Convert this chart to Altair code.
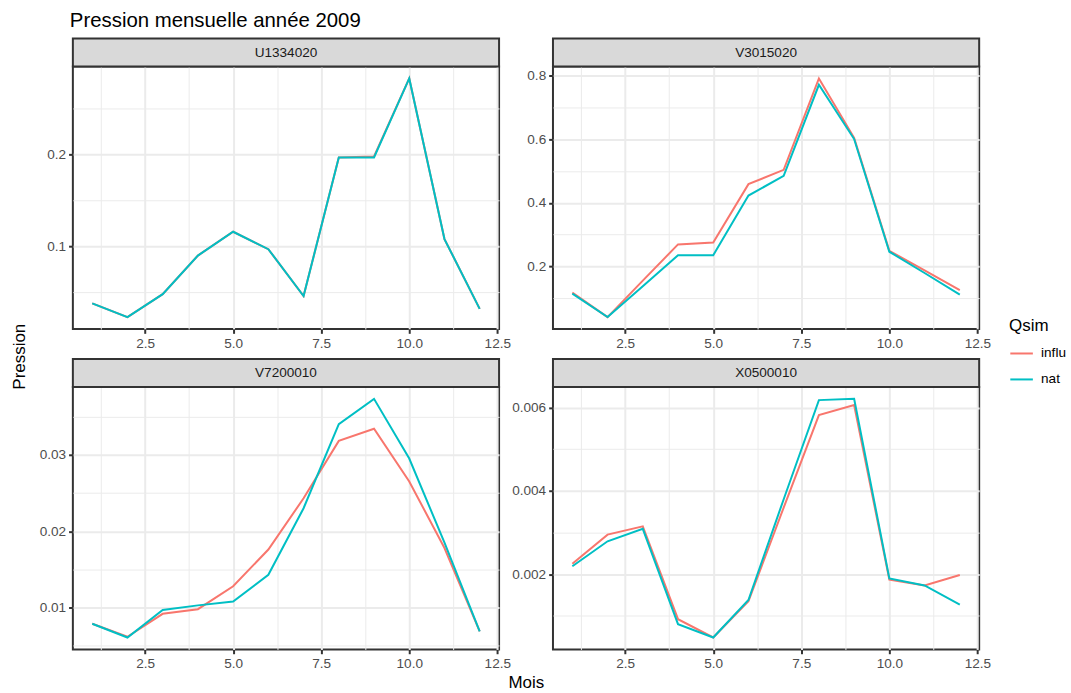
import altair as alt
import pandas as pd

mois = list(range(1, 13))
qsim = ["influ", "nat"]
stations = ["U1334020", "V3015020", "V7200010", "X0500010"]

u1334020_influ = [0.038, 0.023, 0.048, 0.090, 0.116, 0.097, 0.046, 0.197, 0.198, 0.283, 0.108, 0.032]
u1334020_nat = [0.038, 0.023, 0.048, 0.090, 0.116, 0.097, 0.046, 0.197, 0.197, 0.283, 0.108, 0.032]
v3015020_influ = [0.117, 0.040, 0.155, 0.269, 0.275, 0.459, 0.504, 0.792, 0.605, 0.249, 0.187, 0.125]
v3015020_nat = [0.114, 0.040, 0.137, 0.235, 0.235, 0.423, 0.485, 0.772, 0.601, 0.246, 0.179, 0.111]
v7200010_influ = [0.0079, 0.0062, 0.0092, 0.0098, 0.0128, 0.0176, 0.0243, 0.0318, 0.0334, 0.0265, 0.0178, 0.0069]
v7200010_nat = [0.0079, 0.0061, 0.0097, 0.0103, 0.0108, 0.0143, 0.0230, 0.0340, 0.0373, 0.0295, 0.0185, 0.0069]
x0500010_influ = [0.00225, 0.00295, 0.00315, 0.00092, 0.00048, 0.00135, 0.0036, 0.00582, 0.00606, 0.00187, 0.00173, 0.00198]
x0500010_nat = [0.00219, 0.00279, 0.00309, 0.00080, 0.00048, 0.00138, 0.0038, 0.00618, 0.00621, 0.00190, 0.00173, 0.00127]

x_major = [2.5, 5.0, 7.5, 10.0, 12.5]
x_minor = [1.25, 3.75, 6.25, 8.75, 11.25]
y_major = {
    "U1334020": [0.1, 0.2],
    "V3015020": [0.2, 0.4, 0.6, 0.8],
    "V7200010": [0.01, 0.02, 0.03],
    "X0500010": [0.002, 0.004, 0.006],
}
y_minor = {
    "U1334020": [0.05, 0.15, 0.25],
    "V3015020": [0.1, 0.3, 0.5, 0.7],
    "V7200010": [0.005, 0.015, 0.025, 0.035],
    "X0500010": [0.001, 0.003, 0.005],
}
y_format = {"U1334020": ".1f", "V3015020": ".1f", "V7200010": ".2f", "X0500010": ".3f"}

title_text = "Pression mensuelle année 2009"
x_title = "Mois"
y_title = "Pression"

FONT = "Liberation Sans"
W, H = 427, 263
STRIP = 28
GRID = "#EBEBEB"
DARK = "#333333"

color_scale = alt.Scale(domain=qsim, range=["#F8766D", "#00BFC4"])
legend = alt.Legend(
    title="Qsim", orient="none", legendX=938, legendY=252,
    symbolType="stroke", symbolSize=511, symbolStrokeWidth=2,
    labelFont=FONT, labelFontSize=13.6, labelColor="#000000", labelOffset=7,
    titleFont=FONT, titleFontSize=17, titleColor="#000000", titleFontWeight="normal",
    titlePadding=6, rowPadding=6, padding=0,
)


def make_df(name, influ, nat):
    rows = []
    for q, vals in zip(qsim, [influ, nat]):
        for m, v in zip(mois, vals):
            rows.append({"Mois": m, "Pression": v, "Qsim": q, "station": name})
    return pd.DataFrame(rows)


def panel(name, influ, nat, extras=()):
    df = make_df(name, influ, nat)
    lo, hi = min(influ + nat), max(influ + nat)
    pad = (hi - lo) * 0.05
    xs = alt.Scale(domain=[0.45, 12.55], nice=False, zero=False)
    ys = alt.Scale(domain=[lo - pad, hi + pad], nice=False, zero=False)
    base = alt.Chart(df)
    minor = base.mark_point(opacity=0).encode(
        x=alt.X("Mois:Q", scale=xs, axis=alt.Axis(
            orient="top", values=x_minor, labels=False, ticks=False, domain=False,
            grid=True, gridColor=GRID, gridWidth=1, title=None)),
        y=alt.Y("Pression:Q", scale=ys, axis=alt.Axis(
            orient="right", values=y_minor[name], labels=False, ticks=False, domain=False,
            grid=True, gridColor=GRID, gridWidth=1, title=None)),
    )
    lines = base.mark_line(strokeWidth=2).encode(
        x=alt.X("Mois:Q", scale=xs, axis=alt.Axis(
            values=x_major, format=".1f", title=None, grid=True, gridColor=GRID, gridWidth=2,
            domain=False, tickColor=DARK, tickSize=4.3, tickWidth=2,
            labelColor="#4D4D4D", labelFontSize=13.6, labelFont=FONT, labelPadding=3,
            labelFlush=False, labelOverlap=False)),
        y=alt.Y("Pression:Q", scale=ys, axis=alt.Axis(
            values=y_major[name], format=y_format[name], title=None, grid=True, gridColor=GRID,
            gridWidth=2, domain=False, tickColor=DARK, tickSize=4.3, tickWidth=2,
            labelColor="#4D4D4D", labelFontSize=13.6, labelFont=FONT, labelPadding=3,
            labelFlush=False, labelOverlap=False)),
        color=alt.Color("Qsim:N", scale=color_scale, legend=legend),
    )
    sdf = pd.DataFrame({"station": [name]})
    strip_rect = alt.Chart(sdf).mark_rect(fill="#D9D9D9", stroke=DARK, strokeWidth=2).encode(
        x=alt.value(0), x2=alt.value(W), y=alt.value(-STRIP), y2=alt.value(0))
    strip_text = alt.Chart(sdf).mark_text(
        font=FONT, fontSize=13.6, color="#1A1A1A", baseline="middle", align="center").encode(
        x=alt.value(W / 2), y=alt.value(-STRIP / 2), text="station:N")
    layers = [minor, lines, strip_rect, strip_text] + list(extras)
    return alt.layer(*layers).resolve_axis(x="independent", y="independent").properties(
        width=W, height=H)


tdf = pd.DataFrame({"t": [title_text]})
title_mark = alt.Chart(tdf).mark_text(
    font=FONT, fontSize=20.4, color="#000000", align="left", baseline="alphabetic").encode(
    x=alt.value(-3), y=alt.value(-40), text="t:N")
ydf = pd.DataFrame({"t": [y_title]})
ytitle_mark = alt.Chart(ydf).mark_text(
    font=FONT, fontSize=17, color="#000000", align="center", baseline="middle", angle=270).encode(
    x=alt.value(-52.7), y=alt.value(290.7), text="t:N")
xdf = pd.DataFrame({"t": [x_title]})
xtitle_mark = alt.Chart(xdf).mark_text(
    font=FONT, fontSize=17, color="#000000", align="center", baseline="alphabetic").encode(
    x=alt.value(454.3), y=alt.value(302), text="t:N")

p1 = panel("U1334020", u1334020_influ, u1334020_nat, [title_mark, ytitle_mark])
p2 = panel("V3015020", v3015020_influ, v3015020_nat)
p3 = panel("V7200010", v7200010_influ, v7200010_nat, [xtitle_mark])
p4 = panel("X0500010", x0500010_influ, x0500010_nat)

chart = alt.ConcatChart(
    concat=[p1, p2, p3, p4], columns=2, spacing={"row": 58, "column": 54}, bounds="flush",
).resolve_scale(x="independent", y="independent", color="shared").properties(
    padding={"left": 10, "top": 9, "right": 5, "bottom": 0},
    background="white",
).configure_view(stroke=DARK, strokeWidth=2)

chart.save("out.html", embed_options={"renderer": "svg", "actions": False})
